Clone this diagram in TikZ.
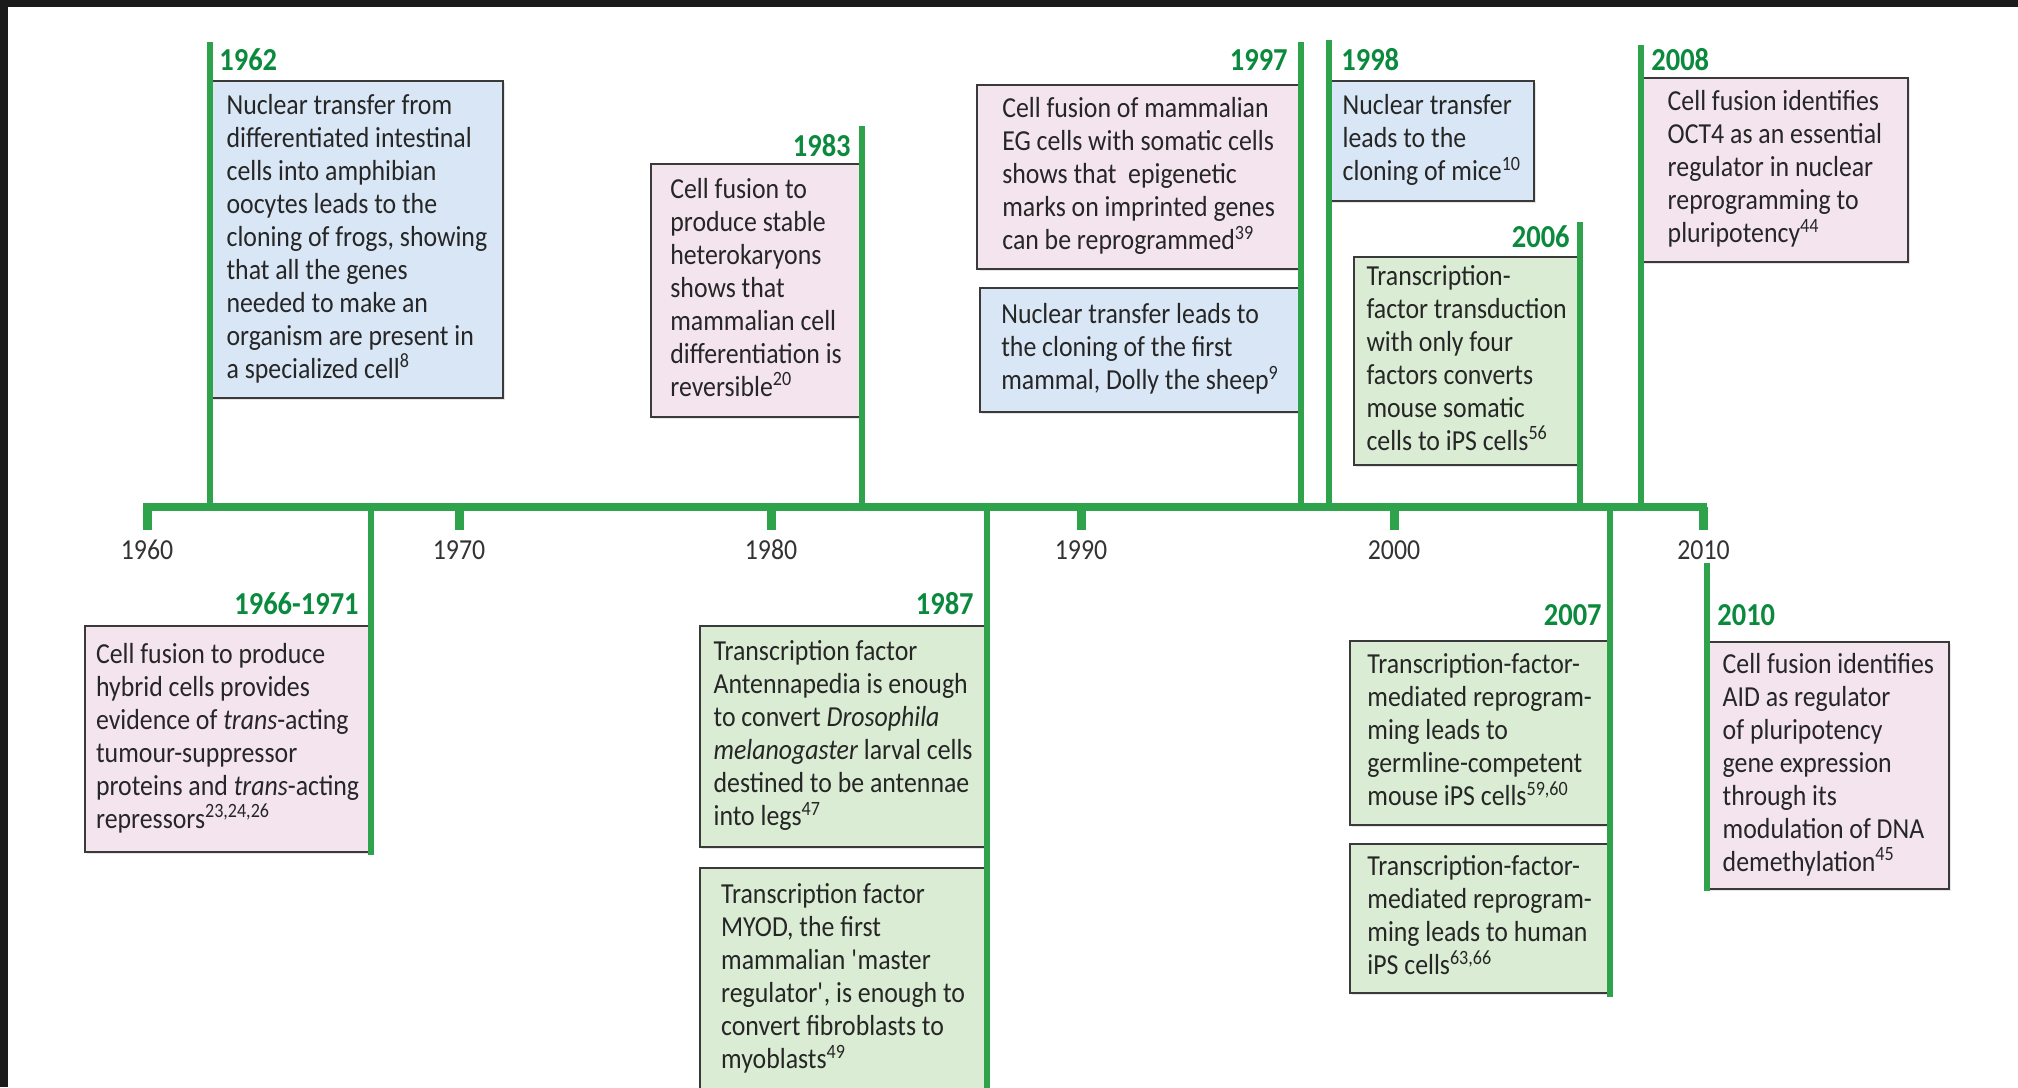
\documentclass[tikz,border=0pt]{standalone}
\usepackage{fontspec}
\setmainfont{Carlito}[FakeStretch=0.89]
\usetikzlibrary{shadows}

\definecolor{lineGreen}{HTML}{2EA34B}
\definecolor{yearGreen}{HTML}{0B8A3E}
\definecolor{fillBlue}{HTML}{D8E6F5}
\definecolor{fillPink}{HTML}{F3E4EE}
\definecolor{fillGreen}{HTML}{DAECD3}
\definecolor{boxLine}{HTML}{3A3A3A}
\definecolor{bodyText}{HTML}{262626}
\definecolor{axisText}{HTML}{333333}
\definecolor{frameDark}{HTML}{1B1B1B}

\newcommand\notefont{\fontsize{14.5pt}{16.5pt}\selectfont}
\newcommand\yearfont{\fontsize{16pt}{18pt}\selectfont\bfseries}

\begin{document}
\begin{tikzpicture}[x=0.5pt,y=-0.5pt]
      \tikzset{
        note/.style={draw=boxLine,line width=0.9pt,inner sep=0pt,align=left,
          font=\notefont,text=bodyText,
          drop shadow={shadow xshift=0.8pt,shadow yshift=-1pt,opacity=0.2}},
        blue note/.style={note,fill=fillBlue},
        pink note/.style={note,fill=fillPink},
        green note/.style={note,fill=fillGreen},
        event/.style={draw=lineGreen,line width=2.75pt},
        axis/.style={draw=lineGreen,line width=4.25pt},
        tick/.style={draw=lineGreen,line width=4.5pt},
        year/.style={font=\yearfont,text=yearGreen,inner sep=0pt},
        decade/.style={font=\notefont,text=axisText,inner sep=0pt}
      }

      \useasboundingbox (0,0) rectangle (2018,1087);
      \fill[frameDark] (0,0) rectangle (2018,1087);
      \fill[white] (8,7) rectangle (2018,1087);

      % events above the axis
      \node[blue note,anchor=north west,minimum width=146pt,minimum height=158.5pt] (b1962) at (210,80)
        {\strut Nuclear transfer from\\differentiated intestinal\\cells into amphibian\\oocytes leads to the\\
         cloning of frogs, showing\\that all the genes\\needed to make an\\organism are present in\\
         a specialized cell\textsuperscript{8}\strut};
      \node[pink note,anchor=north east,minimum width=105pt,minimum height=126.5pt] (b1983) at (862,163)
        {\strut Cell fusion to\\produce stable\\heterokaryons\\shows that\\mammalian cell\\
         differentiation is\\reversible\textsuperscript{20}\strut};
      \node[pink note,anchor=north east,minimum width=161.5pt,minimum height=92pt] (b1997a) at (1301,84)
        {\strut Cell fusion of mammalian\\EG cells with somatic cells\\shows that\ \ epigenetic\\
         marks on imprinted genes\\can be reprogrammed\textsuperscript{39}\strut};
      \node[blue note,anchor=north east,minimum width=160pt,minimum height=62pt] (b1997b) at (1301,287)
        {\strut Nuclear transfer leads to\\the cloning of the first\\mammal, Dolly the sheep\textsuperscript{9}\strut};
      \node[blue note,anchor=north west,minimum width=102pt,minimum height=60pt] (b1998) at (1329,80)
        {\strut Nuclear transfer\\leads to the\\cloning of mice\textsuperscript{10}\strut};
      \node[green note,anchor=north east,minimum width=112.5pt,minimum height=104pt] (b2006) at (1580,256)
        {\strut Transcription-\\factor transduction\\with only four\\factors converts\\mouse somatic\\
         cells to iPS cells\textsuperscript{56}\strut};
      \node[pink note,anchor=north west,minimum width=133pt,minimum height=92pt] (b2008) at (1641,77)
        {\strut Cell fusion identifies\\OCT4 as an essential\\regulator in nuclear\\reprogramming to\\
         pluripotency\textsuperscript{44}\strut};

      % events below the axis
      \node[pink note,anchor=north east,minimum width=142.5pt,minimum height=113pt] (b1966) at (371,625)
        {\strut Cell fusion to produce\\hybrid cells provides\\evidence of \textit{trans}-acting\\
         tumour-suppressor\\proteins and \textit{trans}-acting\\repressors\textsuperscript{23,24,26}\strut};
      \node[green note,anchor=north east,minimum width=143pt,minimum height=110.5pt] (b1987a) at (987,625)
        {\strut Transcription factor\\Antennapedia is enough\\to convert \textit{Drosophila}\\
         \textit{melanogaster} larval cells\\destined to be antennae\\into legs\textsuperscript{47}\strut};
      \node[green note,anchor=north east,minimum width=143pt,minimum height=111.5pt] (b1987b) at (987,867)
        {\strut Transcription factor\\MYOD, the first\\mammalian \textquotesingle master\\
         regulator\textquotesingle, is enough to\\convert fibroblasts to\\myoblasts\textsuperscript{49}\strut};
      \node[green note,anchor=north east,minimum width=129.5pt,minimum height=92pt] (b2007a) at (1610,640)
        {\strut Transcription-factor-\\mediated reprogram-\\ming leads to\\germline-competent\\
         mouse iPS cells\textsuperscript{59,60}\strut};
      \node[green note,anchor=north east,minimum width=129.5pt,minimum height=74.5pt] (b2007b) at (1610,843)
        {\strut Transcription-factor-\\mediated reprogram-\\ming leads to human\\iPS cells\textsuperscript{63,66}\strut};
      \node[pink note,anchor=north west,minimum width=120.5pt,minimum height=123.5pt] (b2010) at (1707,641)
        {\strut Cell fusion identifies\\AID as regulator\\of pluripotency\\gene expression\\through its\\
         modulation of DNA\\demethylation\textsuperscript{45}\strut};

      % event lines
      \coordinate (axisL) at (143,507);
      \coordinate (axisR) at (1707,507);
      \coordinate (t1962) at (210,42);
      \coordinate (t1983) at (862,126);
      \coordinate (t1997) at (1301,42);
      \coordinate (t1998) at (1329,40);
      \coordinate (t2006) at (1580,222);
      \coordinate (t2008) at (1641,45);
      \coordinate (e1966) at (371,855);
      \coordinate (e1987) at (987,1095);
      \coordinate (e2007) at (1610,997);
      \coordinate (s2010) at (1707,563);
      \coordinate (e2010) at (1707,891);

      \draw[event] (t1962) -- (t1962 |- axisL);
      \draw[event] (t1983) -- (t1983 |- axisL);
      \draw[event] (t1997) -- (t1997 |- axisL);
      \draw[event] (t1998) -- (t1998 |- axisL);
      \draw[event] (t2006) -- (t2006 |- axisL);
      \draw[event] (t2008) -- (t2008 |- axisL);
      \draw[event] (e1966 |- axisL) -- (e1966);
      \draw[event] (e1987 |- axisL) -- (e1987);
      \draw[event] (e2007 |- axisL) -- (e2007);
      \draw[event] (s2010) -- (e2010);

      % axis with decades
      \draw[axis] (axisL) -- (axisR);
      \node[decade,anchor=base] (d1960) at (147,559) {1960};
      \node[decade,anchor=base] (d1970) at (459,559) {1970};
      \node[decade,anchor=base] (d1980) at (771,559) {1980};
      \node[decade,anchor=base] (d1990) at (1081,559) {1990};
      \node[decade,anchor=base] (d2000) at (1394,559) {2000};
      \node[decade,anchor=base] (d2010) at (1703.5,559) {2010};
      \draw[tick] (d1960 |- axisL) -- ++(0,23);
      \draw[tick] (d1970 |- axisL) -- ++(0,23);
      \draw[tick] (d1980 |- axisL) -- ++(0,23);
      \draw[tick] (d1990 |- axisL) -- ++(0,23);
      \draw[tick] (d2000 |- axisL) -- ++(0,23);
      \draw[tick] (d2010 |- axisL) -- ++(0,23);

      % years
      \node[year,anchor=base west] (y1962) at (219,70) {1962};
      \node[year,anchor=base east] (y1983) at (851,156) {1983};
      \node[year,anchor=base east] (y1997) at (1288,70) {1997};
      \node[year,anchor=base west] (y1998) at (1341,70) {1998};
      \node[year,anchor=base east] (y2006) at (1570,247) {2006};
      \node[year,anchor=base west] (y2008) at (1651,70) {2008};
      \node[year,anchor=base east] (y1966) at (359,614) {1966-1971};
      \node[year,anchor=base east] (y1987) at (974,614) {1987};
      \node[year,anchor=base east] (y2007) at (1602,625) {2007};
      \node[year,anchor=base west] (y2010) at (1717,625) {2010};
    \end{tikzpicture}
\end{document}
